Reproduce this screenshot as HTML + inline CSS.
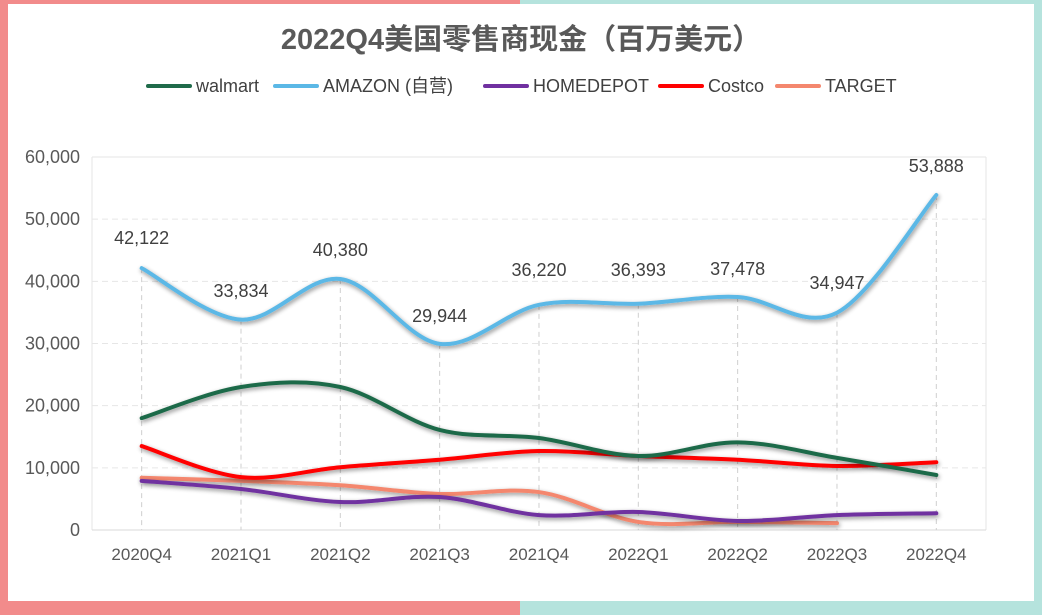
<!DOCTYPE html>
<html><head><meta charset="utf-8"><style>
html,body{margin:0;padding:0;background:#fff}
#wrap{position:relative;width:1042px;height:615px;overflow:hidden;font-family:"Liberation Sans","Noto Sans CJK SC",sans-serif}
</style></head><body><div id="wrap">
<svg id="s" width="1042" height="615" xmlns="http://www.w3.org/2000/svg" style="position:absolute;left:0;top:0">
<defs>
<filter id="sh" x="-10%" y="-30%" width="120%" height="160%">
<feGaussianBlur in="SourceAlpha" stdDeviation="2.5"/><feOffset dx="1" dy="2" result="b"/>
<feComponentTransfer><feFuncA type="linear" slope="0.45"/></feComponentTransfer>
<feMerge><feMergeNode/><feMergeNode in="SourceGraphic"/></feMerge></filter>
</defs>
<rect x="0" y="0" width="520" height="615" fill="#f28b8b"/>
<rect x="520" y="0" width="522" height="615" fill="#b5e3dd"/>
<rect x="8" y="4" width="1026" height="597" fill="#fff"/>
<text x="521" y="49" text-anchor="middle" font-size="29" font-weight="bold" fill="#595959">2022Q4美国零售商现金（百万美元）</text>
<g id="g"></g>
</svg>
<script>
const g=document.getElementById('g');let h='';
const X0=92,W=99.33,Y0=530,K=373/60000;
const xs=i=>X0+W*(i+0.5), ys=v=>Y0-v*K;
const leg=[["walmart","#1f6b4a",148],["AMAZON (自营)","#5bb8e6",275],["HOMEDEPOT","#7030a0",485],["Costco","#ff0000",660],["TARGET","#f4876e",777]];
leg.forEach(l=>{h+=`<line x1="${l[2]}" y1="86" x2="${l[2]+42}" y2="86" stroke="${l[1]}" stroke-width="4" stroke-linecap="round"/><text x="${l[2]+48}" y="92" font-size="18" fill="#404040">${l[0]}</text>`});
for(let v=0;v<=60000;v+=10000){const y=ys(v);
 if(v>0)h+=`<line x1="92" y1="${y}" x2="986" y2="${y}" stroke="#e6e6e6" stroke-dasharray="6,4"/>`;
 h+=`<text x="80" y="${y+6}" text-anchor="end" font-size="18" fill="#595959">${v.toLocaleString('en-US')}</text>`;}
h+=`<line x1="92" y1="157" x2="986" y2="157" stroke="#e6e6e6"/><line x1="92" y1="157" x2="92" y2="530" stroke="#e6e6e6"/><line x1="986" y1="157" x2="986" y2="530" stroke="#e6e6e6"/>`;
h+=`<line x1="92" y1="530" x2="986" y2="530" stroke="#d9d9d9"/>`;
const cats=["2020Q4","2021Q1","2021Q2","2021Q3","2021Q4","2022Q1","2022Q2","2022Q3","2022Q4"];
const amz=[42122,33834,40380,29944,36220,36393,37478,34947,53888];
cats.forEach((c,i)=>{const x=xs(i);h+=`<line x1="${x}" y1="${ys(amz[i])}" x2="${x}" y2="530" stroke="#cfcfcf" stroke-dasharray="5,4"/><text x="${x}" y="560" text-anchor="middle" font-size="17" fill="#595959">${c}</text>`});
function path(d){const p=d.map((v,i)=>[xs(i),ys(v)]);let s=`M${p[0][0]},${p[0][1]}`;
 for(let i=0;i<p.length-1;i++){const a=p[Math.max(0,i-1)],b=p[i],c=p[i+1],e=p[Math.min(p.length-1,i+2)];const t=6;
 s+=` C${b[0]+(c[0]-a[0])/t},${b[1]+(c[1]-a[1])/t} ${c[0]-(e[0]-b[0])/t},${c[1]-(e[1]-b[1])/t} ${c[0]},${c[1]}`;}return s;}
const ser=[
["#f4876e",[8400,7900,7200,5800,6100,1300,1300,1100]],
["#7030a0",[7900,6600,4500,5300,2400,2900,1450,2400,2700]],
["#ff0000",[13500,8500,10100,11300,12700,11900,11300,10300,10900]],
["#1f6b4a",[18000,23000,23000,16100,14800,11900,14100,11600,8850]],
["#5bb8e6",amz]];
ser.forEach(s=>{h+=`<path d="${path(s[1])}" fill="none" stroke="${s[0]}" stroke-width="4" stroke-linecap="round" filter="url(#sh)"/>`});
const ly=[238,291,250,316,270,270,269,283,166];
amz.forEach((v,i)=>{h+=`<text x="${xs(i)}" y="${ly[i]+6}" text-anchor="middle" font-size="18" fill="#404040">${v.toLocaleString('en-US')}</text>`});
g.innerHTML=h;
</script>
</div></body></html>
